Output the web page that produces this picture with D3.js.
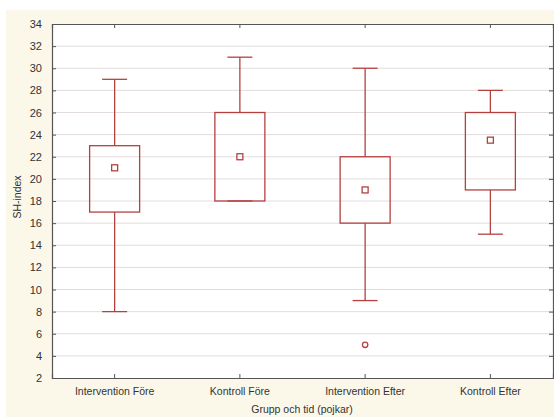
<!DOCTYPE html>
<html>
<head>
<meta charset="utf-8">
<script src="https://cdn.jsdelivr.net/npm/d3@7"></script>
<style>
  body { margin: 0; background: #fff; }
  text { font-family: "Liberation Sans", Arial, sans-serif; }
</style>
</head>
<body>
<svg width="554" height="419"></svg>
<script>
// data
const groups = ['Intervention Före', 'Kontroll Före', 'Intervention Efter', 'Kontroll Efter']
const whiskerLow = [8, 18, 9, 15]
const boxLow = [17, 18, 16, 19]
const boxHigh = [23, 26, 22, 26]
const whiskerHigh = [29, 31, 30, 28]
const means = [21, 22, 19, 23.5]
const outliers = [[], [], [5], []]
const yTicks = d3.range(2, 35, 2)

const data = groups.map((g, i) => ({
    group: g, lo: whiskerLow[i], q1: boxLow[i], q3: boxHigh[i],
    hi: whiskerHigh[i], mean: means[i], out: outliers[i]
}))

const svg = d3.select('svg'),
    margin = {top: 24, right: 1, bottom: 41, left: 52},
    width = svg.attr('width') - margin.left - margin.right,
    height = svg.attr('height') - margin.top - margin.bottom,
    x = d3.scaleBand().domain(groups).range([0, width]),
    y = d3.scaleLinear().domain([2, 34]).range([height, 0])

const red = '#b5413f'

// cream background
svg.append('rect')
    .attr('x', 6).attr('y', 10)
    .attr('width', 548).attr('height', 407)
    .attr('fill', '#fbf8ea')

const g = svg.append('g')
    .attr('transform', `translate(${margin.left}, ${margin.top})`)

g.append('rect')
    .attr('width', width).attr('height', height)
    .attr('fill', '#fff')

// grid
g.selectAll('.grid')
    .data(yTicks.slice(1, -1))
    .enter().append('line')
    .attr('x1', 0).attr('x2', width)
    .attr('y1', d => y(d)).attr('y2', d => y(d))
    .attr('stroke', '#e3dcdc')

// axes
const yAxis = g.append('g')
    .call(d3.axisLeft(y).tickValues(yTicks).tickSize(-4).tickPadding(10))
yAxis.selectAll('text').attr('font-size', 11).attr('fill', '#333')

g.append('g')
    .attr('transform', `translate(${width}, 0)`)
    .call(d3.axisRight(y).tickValues(yTicks).tickSize(-4).tickFormat(''))

const xAxis = g.append('g')
    .attr('transform', `translate(0, ${height})`)
    .call(d3.axisBottom(x).tickSize(-4).tickPadding(10))
xAxis.selectAll('text').attr('font-size', 10.5).attr('fill', '#333')

g.append('g')
    .call(d3.axisTop(x).tickSize(-4).tickFormat(''))

g.selectAll('.domain').attr('stroke', '#555').attr('stroke-width', 1.2)
g.selectAll('.tick line').attr('stroke', '#555')

// boxes
const bw = 50, cw = 25
const box = g.selectAll('.box')
    .data(data)
    .enter().append('g')
    .attr('class', 'box')
    .attr('transform', d => `translate(${x(d.group) + x.bandwidth() / 2}, 0)`)
    .attr('stroke', red).attr('fill', 'none').attr('stroke-width', 1.3)

box.append('line')
    .attr('y1', d => y(d.lo)).attr('y2', d => y(d.q1))
box.append('line')
    .attr('y1', d => y(d.q3)).attr('y2', d => y(d.hi))
box.append('line')
    .attr('x1', -cw / 2).attr('x2', cw / 2)
    .attr('y1', d => y(d.lo)).attr('y2', d => y(d.lo))
box.append('line')
    .attr('x1', -cw / 2).attr('x2', cw / 2)
    .attr('y1', d => y(d.hi)).attr('y2', d => y(d.hi))
box.append('rect')
    .attr('x', -bw / 2).attr('width', bw)
    .attr('y', d => y(d.q3)).attr('height', d => y(d.q1) - y(d.q3))
box.append('rect')
    .attr('x', -3).attr('width', 6)
    .attr('y', d => y(d.mean) - 3).attr('height', 6)
box.selectAll('circle')
    .data(d => d.out)
    .enter().append('circle')
    .attr('r', 2.7)
    .attr('cy', d => y(d))

// titles
svg.append('text')
    .attr('x', 302).attr('y', 413)
    .attr('text-anchor', 'middle').attr('font-size', 10.5).attr('fill', '#333')
    .text('Grupp och tid (pojkar)')

svg.append('text')
    .attr('transform', `translate(21, 197) rotate(-90)`)
    .attr('text-anchor', 'middle').attr('font-size', 10.5).attr('fill', '#333')
    .text('SH-index')
</script>
</body>
</html>
